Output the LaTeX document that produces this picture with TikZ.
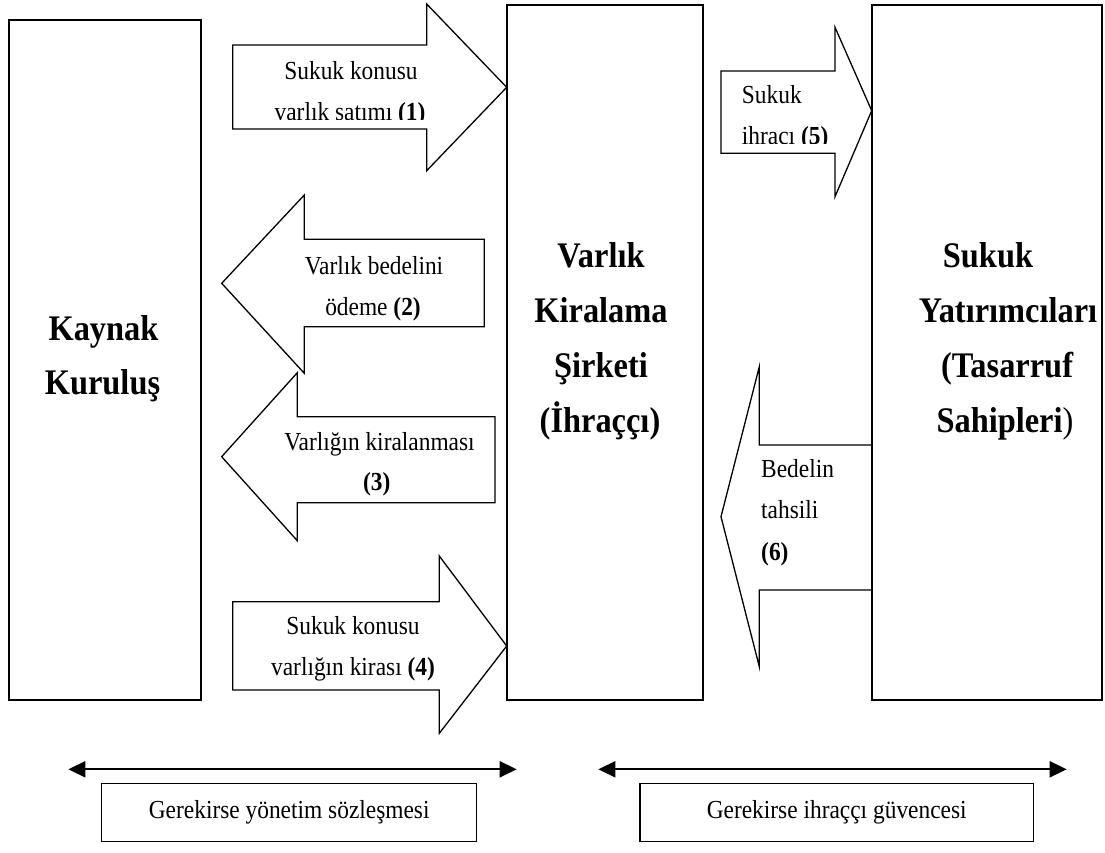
\documentclass[tikz,border=0pt]{standalone}
\usepackage{fontspec}
\setmainfont{Liberation Serif}[FakeStretch=0.9]
\usetikzlibrary{arrows.meta}
\begin{document}
\begin{tikzpicture}[x=1pt,y=-1pt,
  bigbox/.style={draw, line width=2pt, inner sep=0pt, outer sep=0pt, anchor=north west},
  blockarrow/.style={draw, line width=1.3pt, fill=white, line join=miter},
  lbl/.style={font=\fontsize{26}{31}\selectfont, inner sep=0pt, anchor=base},
  lblw/.style={lbl, anchor=base west},
  ttl/.style={font=\bfseries\fontsize{36}{42}\selectfont, inner sep=0pt, anchor=base},
  notebox/.style={draw, line width=1.5pt, inner sep=0pt, outer sep=0pt, anchor=north west},
  twoway/.style={line width=1.8pt, {Triangle[length=17pt,width=16pt]}-{Triangle[length=17pt,width=16pt]}}]
\useasboundingbox (0,0) rectangle (1105,852);

% main boxes
\node[bigbox, minimum width=192pt, minimum height=680pt] (kaynak) at (9.3,20) {};
\node[bigbox, minimum width=196pt, minimum height=695.5pt] (varlik) at (507.3,4.5) {};
\node[bigbox, minimum width=230.3pt, minimum height=695.3pt] (yatirimci) at (872,4.7) {};

% block arrows
\draw[blockarrow] (232.7,45) -- (426.7,45) -- (426.7,4) -- (506.7,87.3) -- (426.7,170.7) -- (426.7,129) -- (232.7,129) -- cycle;
\draw[blockarrow] (221.7,283.3) -- (304.3,195) -- (304.3,239.3) -- (484.3,239.3) -- (484.3,326.7) -- (304.3,326.7) -- (304.3,373.3) -- cycle;
\draw[blockarrow] (221.7,456.7) -- (297.3,372.7) -- (297.3,416.7) -- (495,416.7) -- (495,502.7) -- (297.3,502.7) -- (297.3,540.7) -- cycle;
\draw[blockarrow] (232.7,601.7) -- (439.3,601.7) -- (439.3,556) -- (506.7,646) -- (439.3,733.3) -- (439.3,690) -- (232.7,690) -- cycle;
\draw[blockarrow] (721,71) -- (835,71) -- (835,27.3) -- (871.7,110.7) -- (835,196.7) -- (835,153.3) -- (721,153.3) -- cycle;
\draw[blockarrow] (721,516.7) -- (759.3,366.7) -- (759.3,445) -- (871.7,445) -- (871.7,590) -- (759.3,590) -- (759.3,666.7) -- cycle;

% arrow labels
\node[lbl] (t1a) at (351,79) {Sukuk konusu};
\begin{scope}
  \clip (0,0) rectangle (1105,119.5);
  \node[lbl] (t1b) at (350,120.8) {varlık satımı \textbf{(1)}};
\end{scope}
\node[lbl] (t2a) at (374,274) {Varlık bedelini};
\node[lbl] (t2b) at (373,315) {ödeme \textbf{(2)}};
\node[lbl] (t3a) at (379.5,450) {Varlığın kiralanması};
\node[lbl] (t3b) at (376.7,490) {\textbf{(3)}};
\node[lbl] (t4a) at (353,634) {Sukuk konusu};
\node[lbl] (t4b) at (353,675) {varlığın kirası \textbf{(4)}};
\node[lblw] (t5a) at (741.7,103.3) {Sukuk};
\begin{scope}
  \clip (0,0) rectangle (1105,143);
  \node[lblw] (t5b) at (741.7,144.6) {ihracı \textbf{(5)}};
\end{scope}
\node[lblw] (t6a) at (761,477.3) {Bedelin};
\node[lblw] (t6b) at (761,518.3) {tahsili};
\node[lblw] (t6c) at (761,560) {\textbf{(6)}};

% titles
\node[ttl] (k1) at (103.5,340) {Kaynak};
\node[ttl] (k2) at (102.5,394) {Kuruluş};
\node[ttl] (v1) at (601,267) {Varlık};
\node[ttl] (v2) at (601,322) {Kiralama};
\node[ttl] (v3) at (601,377) {Şirketi};
\node[ttl] (v4) at (600,432) {(İhraççı)};
\node[ttl] (s1) at (988,267) {Sukuk};
\node[ttl] (s2) at (1008,322) {Yatırımcıları};
\node[ttl] (s3) at (1007,377) {(Tasarruf};
\node[ttl] (s4) at (1005,432) {Sahipleri\mdseries)};

% bottom
\coordinate (la) at (68.3,769.3);
\coordinate (lb) at (516.7,769.3);
\coordinate (ra) at (598.3,769.3);
\coordinate (rb) at (1066.7,769.3);
\draw[twoway] (la) -- (lb);
\draw[twoway] (ra) -- (rb);
\node[notebox, minimum width=375pt, minimum height=58.4pt] (yonetim) at (101.7,783.3) {};
\node[notebox, minimum width=393.3pt, minimum height=58.4pt] (guvence) at (640,783.3) {};
\node[lbl] (yt) at (289.2,818.3) {Gerekirse yönetim sözleşmesi};
\node[lbl] (gt) at (836.7,818.3) {Gerekirse ihraççı güvencesi};
\end{tikzpicture}
\end{document}
